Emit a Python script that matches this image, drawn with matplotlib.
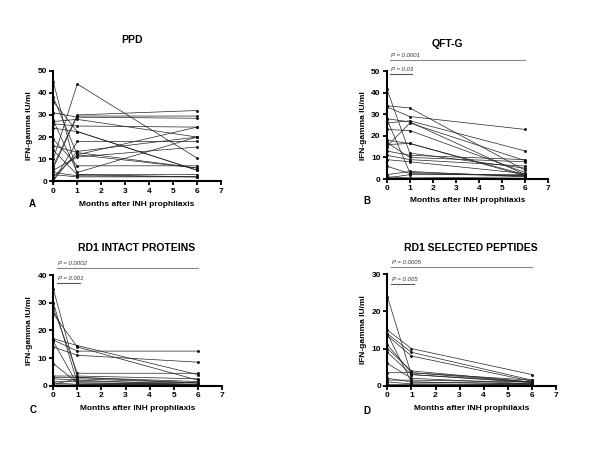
import matplotlib
matplotlib.use("Agg")
import matplotlib.pyplot as plt

plt.rcParams['font.family'] = ['Liberation Sans', 'DejaVu Sans']

months = [0, 1, 6]

# Panel A: PPD (month 0, month 1, month 6) per subject
ppd = [
    [45, 3, 2], [38, 12, 6], [36, 22.5, 5], [31, 29, 28.5], [27, 28, 20],
    [27.5, 4, 20], [26, 25, 24.5], [24, 22.5, 5], [19, 7, 7], [16, 13, 6],
    [14, 3, 3], [7, 30, 32], [6, 29.5, 29.5], [5, 11, 15.5], [4, 2.5, 2],
    [3, 2, 2], [0.5, 13.5, 20], [0, 18, 18], [10, 44, 10.5], [2, 12, 24.5],
]
# Panel B: QFT-G
qft = [
    [42, 12, 5], [34, 33, 4], [33.5, 29, 23], [26, 27, 13], [28, 26.5, 2],
    [23, 22.5, 3], [18, 16.5, 2], [17, 10, 8], [15, 26, 8.5], [13, 11, 9],
    [11, 9, 6], [9, 8, 2.5], [6, 2.5, 1.5], [2, 3.5, 1], [1, 0.5, 1],
    [0.5, 2, 2], [16, 16.5, 1.5], [28, 3, 1.5],
]
# Panel C: RD1 intact proteins
rd1p = [
    [35, 3, 1], [30, 1, 0.5], [28, 4.5, 4.5], [26, 14, 2], [17, 14.5, 4],
    [16.5, 12.5, 12.5], [16, 0.5, 0.5], [14, 11, 8.5], [8, 1, 0.5],
    [3.5, 3.5, 2.5], [3, 3, 1.5], [2.5, 2, 0.3], [1.5, 1.5, 1],
    [1, 0.5, 0.5], [0.5, 2.5, 1], [0.3, 0.3, 0.2],
]
# Panel D: RD1 selected peptides
rd1s = [
    [24, 3, 1], [15, 10, 3], [14, 9, 1.5], [13.5, 8, 1.2], [11, 3.5, 1],
    [10, 4, 1], [9, 3, 0.8], [6, 2, 0.5], [3.5, 3.5, 1.5], [2, 1, 0.5],
    [1.5, 1.5, 1], [1, 0.5, 0.3], [0.5, 0.5, 0.5], [14, 1, 0.5],
]

titles = ["PPD", "QFT-G", "RD1 INTACT PROTEINS", "RD1 SELECTED PEPTIDES"]
letters = ["A", "B", "C", "D"]
ymaxes = [50, 50, 40, 30]
pvals = [None, ("P = 0.0001", "P = 0.03"), ("P = 0.0002", "P = 0.001"), ("P = 0.0005", "P = 0.005")]
datasets = [ppd, qft, rd1p, rd1s]

W, H = 600, 450
# axes boxes in pixels: (left, top, right, bottom)
boxes = [
    (53.3, 70.7, 221.0, 181.3),
    (386.7, 71.3, 548.4, 179.0),
    (53.3, 275.0, 221.8, 385.7),
    (387.3, 274.3, 556.0, 385.7),
]
title_x = [132, 447, 137, 471]
title_y = [40, 44, 248, 248]
xlabel_y = [204, 200, 408, 409]
letter_x = [32, 367, 33, 367]
letter_y = [204, 201, 410, 411]
# p-value bar heights as fraction of the y-range (long, short)
pbar = [None, (1.105, 0.975), (1.065, 0.93), (1.063, 0.91)]

fig = plt.figure(figsize=(6, 4.5), dpi=100)

for i, (data, box) in enumerate(zip(datasets, boxes)):
    l, t, r, b = box
    ax = fig.add_axes([l / W, 1 - b / H, (r - l) / W, (b - t) / H])
    for subj in data:
        ax.plot(months, subj, color='#222222', lw=0.5, marker='o', ms=1.1,
                mec='#111111', mfc='#111111', clip_on=False)
    ax.set_xlim(0, 7)
    ax.set_ylim(0, ymaxes[i])
    ax.set_xticks(range(0, 8))
    ax.set_yticks(range(0, ymaxes[i] + 1, 10))
    for s in ['top', 'right']:
        ax.spines[s].set_visible(False)
    for s in ['left', 'bottom']:
        ax.spines[s].set_linewidth(1.5)
    ax.tick_params(direction='out', length=3, width=1.3, labelsize=6, pad=1.5)
    for lab in ax.get_xticklabels() + ax.get_yticklabels():
        lab.set_fontweight('bold')
    ax.set_ylabel("IFN-gamma IU/ml", fontsize=6, fontweight='bold', labelpad=3)
    fig.text(title_x[i] / W, 1 - title_y[i] / H, titles[i],
             ha='center', va='center', fontsize=7.5, fontweight='bold')
    fig.text((l + 0.5 * (r - l)) / W, 1 - xlabel_y[i] / H,
             "Months after INH prophilaxis", ha='center', va='center',
             fontsize=6, fontweight='bold')
    fig.text(letter_x[i] / W, 1 - letter_y[i] / H, letters[i],
             ha='center', va='center', fontsize=7, fontweight='bold')
    if pvals[i]:
        ym = ymaxes[i]
        long_y = ym * pbar[i][0]
        short_y = ym * pbar[i][1]
        ax.plot([0.15, 6.0], [long_y, long_y], color='#888888', lw=0.8, clip_on=False)
        ax.plot([0.15, 1.1], [short_y, short_y], color='#555555', lw=0.8, clip_on=False)
        ax.text(0.2, long_y + ym * 0.02, pvals[i][0], fontsize=4.3, style='italic',
                ha='left', va='bottom', color='#333333')
        ax.text(0.2, short_y + ym * 0.02, pvals[i][1], fontsize=4.3, style='italic',
                ha='left', va='bottom', color='#333333')

fig.savefig("out.png", dpi=100)
